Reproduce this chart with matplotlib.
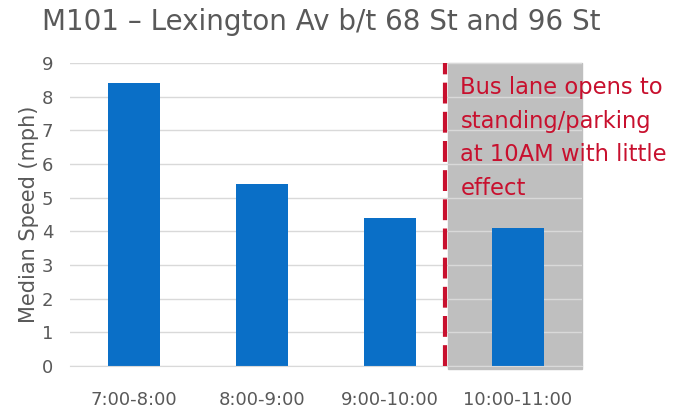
import matplotlib.pyplot as plt
import numpy as np

# data
hours = ['7:00-8:00', '8:00-9:00', '9:00-10:00', '10:00-11:00']
speed = [8.4, 5.4, 4.4, 4.1]
yticks = list(range(0, 10))
note = 'Bus lane opens to\nstanding/parking\nat 10AM with little\neffect'

fig = plt.figure(figsize=(6.79, 4.11), dpi=100)
ax = fig.add_axes([70/679, 45/411, 512/679, 303/411])

x = np.arange(len(hours))
# grey shaded period after bus lane opens
ax.axvspan(2.45, 3.5, ymin=-0.01, ymax=1.0, color='#bfbfbf', zorder=0, clip_on=False)
ax.set_axisbelow(True)
ax.yaxis.grid(True, color='#d9d9d9', lw=1)
ax.bar(x, speed, width=0.4, color='#0a6fc7', zorder=2)
ax.axvline(2.43, color='#c8102e', lw=3, ls=(0, (5, 2)), zorder=3)

ax.set_xlim(-0.5, 3.5)
ax.set_ylim(0, 9)
ax.set_yticks(yticks)
ax.set_xticks(x)
ax.set_xticklabels(hours)
ax.tick_params(length=0, labelsize=13, colors='#595959')
ax.tick_params(axis='x', pad=18)
ax.tick_params(axis='y', pad=12)
for s in ['top', 'right', 'left']:
    ax.spines[s].set_visible(False)
ax.spines['bottom'].set_color('#d9d9d9')
ax.set_ylabel('Median Speed (mph)', fontsize=15, color='#595959', labelpad=2)

ax.text(2.55, 8.6, note, fontsize=16.3, color='#c8102e', va='top', ha='left',
        linespacing=1.58, zorder=4)

fig.text(42/679, 1 - 22/411, 'M101 \u2013 Lexington Av b/t 68 St and 96 St',
         fontsize=20, color='#595959', va='center', ha='left')

fig.savefig('out.png', dpi=100)
